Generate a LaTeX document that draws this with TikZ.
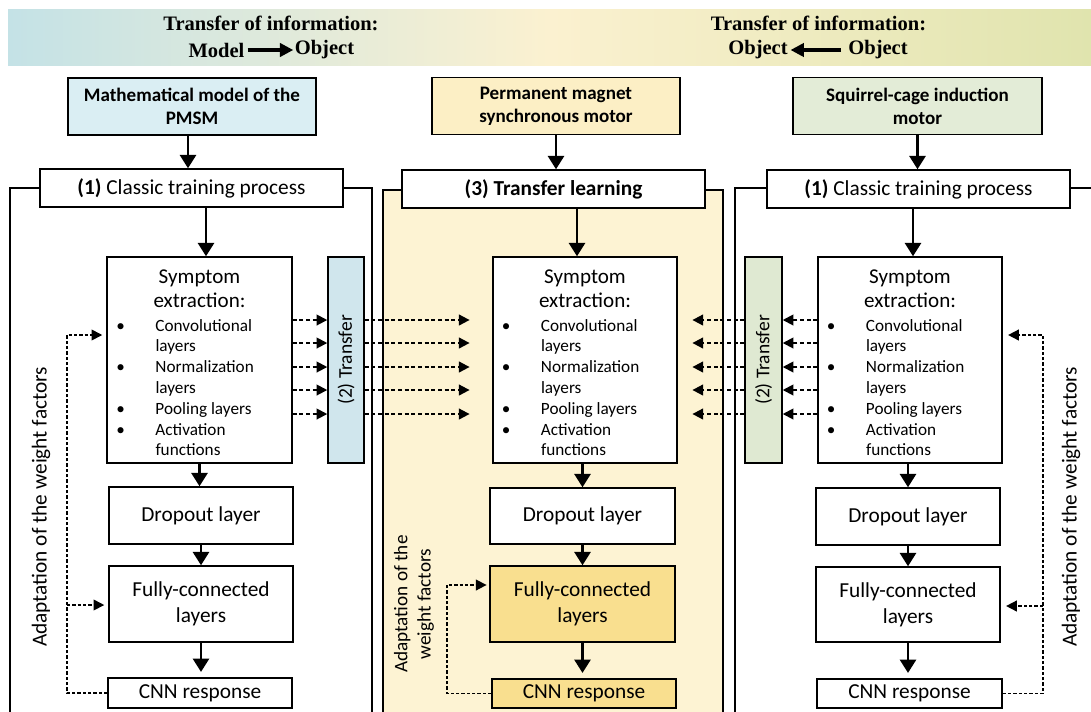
\documentclass[tikz,border=0pt]{standalone}
\usepackage{fontspec}
\setmainfont{Carlito}
\newfontfamily\timesfont{Liberation Serif}
\usetikzlibrary{arrows.meta}
\newcommand\pxu{0.75pt}
\definecolor{topblue}{HTML}{DAEEF3}
\definecolor{topyellow}{HTML}{FCEFC5}
\definecolor{topgreen}{HTML}{E3ECD7}
\definecolor{midyellow}{HTML}{FDF3D3}
\definecolor{gold}{HTML}{F9DF8F}
\definecolor{barblue}{HTML}{D0E6ED}
\definecolor{bargreen}{HTML}{DFE9D2}
\definecolor{bnA}{HTML}{B0D4E1}
\definecolor{bnB}{HTML}{C4E2E6}
\definecolor{bnC}{HTML}{FBF1D0}
\definecolor{bnD}{HTML}{E0E4AE}
\definecolor{bnE}{HTML}{BAD094}
\pgfdeclarehorizontalshading{banner}{100bp}{color(0bp)=(bnA); color(25bp)=(bnB); color(50bp)=(bnC); color(75bp)=(bnD); color(100bp)=(bnE)}
\newcommand\bitem{\leavevmode\llap{\textbullet\hskip 23pt}}
\newcommand\symptext{\raisebox{-2pt}[\height][\depth]{\parbox{138pt}{\centering\fontsize{15.8}{18}\selectfont Symptom\\extraction:\par\vskip 2.4pt
\raggedright\leftskip=36pt\fontsize{12.9}{15.6}\selectfont
\bitem Convolutional\\layers\par
\bitem Normalization\\layers\par
\bitem Pooling layers\par
\bitem Activation\\functions\par}}}
\begin{document}
\begin{tikzpicture}[x=0.75pt,y=-0.75pt,
  box/.style={draw, line width=1.1pt, fill=white, inner sep=2pt, align=center, font=\fontsize{16}{19.5}\selectfont},
  topbox/.style={draw, line width=1.4pt, inner sep=2pt, align=center, font=\bfseries\fontsize{14.3}{17.3}\selectfont},
  barbox/.style={draw, line width=1.1pt, minimum width=36*\pxu, minimum height=206*\pxu, inner sep=0pt},
  bartext/.style={rotate=90, font=\fontsize{14.6}{17}\selectfont},
  adapt/.style={rotate=90, align=center},
  bannertext/.style={font=\timesfont\bfseries\fontsize{15.4}{18}\selectfont, inner sep=0pt},
  barrow/.style={line width=2.3pt, -{Triangle[length=10pt,width=10pt]}},
  arr/.style={line width=2pt, -{Triangle[length=10pt,width=12pt]}},
  darr/.style={line width=1.4pt, dash pattern=on 3pt off 2pt, -{Triangle[length=8pt,width=8pt]}},
  farr/.style={line width=1.2pt, dash pattern=on 2.5pt off 1.5pt, -{Triangle[length=8pt,width=8pt]}},
  frame/.style={draw, line width=1.1pt}]
\useasboundingbox (0,0) rectangle (1091,711);
\clip (0,0) rectangle (1091,711);
% banner
\shade[shading=banner] (8,9) rectangle (1091,65);
\node[bannertext] (bl1) at (271,23) {Transfer of information:};
\node[bannertext] (blm) at (216.5,50) {Model};
\node[bannertext] (blo) at (324.5,50) {Object};
\draw[barrow] (blm.east) ++(3,0) coordinate (blA) -- ([xshift=-1pt]blo.west |- blA);
\node[bannertext] (br1) at (818.5,23) {Transfer of information:};
\node[bannertext] (bro1) at (758,50) {Object};
\node[bannertext] (bro2) at (878,50) {Object};
\draw[barrow] (bro2.west) ++(-7,0) coordinate (brA) -- ([xshift=2pt]bro1.east |- brA);
% frames
\draw[frame] (10,188) rectangle (372,740);
\draw[frame, fill=midyellow] (383,190) rectangle (723,740);
\draw[frame] (735,188) rectangle (1110,740);
% top boxes
\node[topbox, fill=topblue, minimum width=248*\pxu, minimum height=57*\pxu] (m1) at (192,106.5) {Mathematical model of the\\PMSM};
\node[topbox, fill=topyellow, minimum width=248*\pxu, minimum height=57*\pxu] (m2) at (556,106) {Permanent magnet\\synchronous motor};
\node[topbox, fill=topgreen, minimum width=249*\pxu, minimum height=57*\pxu] (m3) at (917.5,106) {Squirrel-cage induction\\motor};
% process boxes
\node[box, minimum width=303*\pxu, minimum height=38*\pxu] (p1) at (191.5,188) {\textbf{(1)} Classic training process};
\node[box, minimum width=303*\pxu, minimum height=38*\pxu] (p2) at (553.5,189) {\textbf{(3) Transfer learning}};
\node[box, minimum width=303*\pxu, minimum height=38*\pxu] (p3) at (918.5,189) {\textbf{(1)} Classic training process};
\draw[arr] (m1.south -| 188,0) coordinate (ta1) -- (ta1 |- p1.north);
\draw[arr] (m2.south) -- (m2.south |- p2.north);
\draw[arr] (m3.south) -- (m3.south |- p3.north);
% symptom boxes
\node[box, minimum width=185*\pxu, minimum height=206*\pxu, inner sep=0pt] (s1) at (199.5,360) {\symptext};
\node[box, minimum width=184*\pxu, minimum height=206*\pxu, inner sep=0pt] (s2) at (585,360) {\symptext};
\node[box, minimum width=184*\pxu, minimum height=206*\pxu, inner sep=0pt] (s3) at (910,360) {\symptext};
\coordinate (a1) at (206,0);
\coordinate (a2) at (577,0);
\coordinate (a3) at (913,0);
\draw[arr] (p1.south -| a1) -- (a1 |- s1.north);
\draw[arr] (p2.south -| a2) -- (a2 |- s2.north);
\draw[arr] (p3.south -| a3) -- (a3 |- s3.north);
% transfer bars
\node[barbox, fill=barblue] (t1) at (346,360) {};
\node[bartext] at (t1.center) {(2) Transfer};
\node[barbox, fill=bargreen, minimum width=37*\pxu] (t3) at (763.5,360) {};
\node[bartext] at (t3.center) {(2) Transfer};
\foreach \yy in {320,343,367,390,414}{
  \draw[darr] ([yshift={(360-\yy)*0.75pt}]s1.east) -- ([yshift={(360-\yy)*0.75pt}]t1.west);
  \draw[darr, shorten >=17pt] ([yshift={(360-\yy)*0.75pt}]t1.east) -- ([yshift={(360-\yy)*0.75pt}]s2.west);
  \draw[darr] ([yshift={(360-\yy)*0.75pt}]s3.west) -- ([yshift={(360-\yy)*0.75pt}]t3.east);
  \draw[darr, shorten >=11pt] ([yshift={(360-\yy)*0.75pt}]t3.west) -- ([yshift={(360-\yy)*0.75pt}]s2.east);
}
% dropout
\node[box, minimum width=184*\pxu, minimum height=57*\pxu] (d1) at (201,515.5) {Dropout layer};
\node[box, minimum width=185*\pxu, minimum height=56*\pxu] (d2) at (582.5,516) {Dropout layer};
\node[box, minimum width=184*\pxu, minimum height=57*\pxu] (d3) at (908,516.5) {Dropout layer};
\draw[arr] (s1.south) -- (s1.south |- d1.north);
\draw[arr] (d2.north |- s2.south) -- (d2.north);
\draw[arr] (d3.north |- s3.south) -- (d3.north);
% fully connected
\node[box, minimum width=184*\pxu, minimum height=76*\pxu] (f1) at (201,604) {Fully-connected\\layers};
\node[box, fill=gold, minimum width=185*\pxu, minimum height=76*\pxu] (f2) at (582.5,604) {Fully-connected\\layers};
\node[box, minimum width=184*\pxu, minimum height=75*\pxu] (f3) at (908,604.5) {Fully-connected\\layers};
\draw[arr] (d1.south) -- (f1.north);
\draw[arr] (d2.south) -- (f2.north);
\draw[arr] (d3.south) -- (f3.north);
% CNN response
\node[box, minimum width=184*\pxu, minimum height=30*\pxu] (c1) at (200,693) {CNN response};
\node[box, fill=gold, minimum width=184*\pxu, minimum height=29*\pxu] (c2) at (584,693.5) {CNN response};
\node[box, minimum width=185*\pxu, minimum height=29*\pxu] (c3) at (909.5,693.5) {CNN response};
\draw[arr, shorten >=4pt] (f1.south) -- (f1.south |- c1.north);
\draw[arr, shorten >=4pt] (f2.south) -- (f2.south |- c2.north);
\draw[arr, shorten >=4pt] (f3.south) -- (f3.south |- c3.north);
% feedback
\coordinate (fl) at (67,335);
\coordinate (fl2) at (67,605);
\draw[farr, shorten >=3pt] (c1.west) -| (fl) -- (fl -| s1.west);
\draw[farr, shorten >=3pt] (fl2) -- (fl2 -| f1.west);
\coordinate (fm) at (447,585);
\draw[farr, shorten >=2pt] (c2.west) -| (fm) -- (fm -| f2.west);
\coordinate (fr) at (1043,335);
\coordinate (fr2) at (1043,606);
\draw[farr, shorten >=4pt] (c3.east) -| (fr) -- (fr -| s3.east);
\draw[farr, shorten >=4pt] (fr2) -- (fr2 -| f3.east);
% adaptation labels
\node[adapt, font=\fontsize{16}{19}\selectfont] (ad1) at (41,507) {Adaptation of the weight factors};
\node[adapt, font=\fontsize{16}{19}\selectfont] (ad3) at (1071,507) {Adaptation of the weight factors};
\node[adapt, font=\fontsize{14.4}{17.5}\selectfont] (ad2) at (414,604) {Adaptation of the\\weight factors};
\end{tikzpicture}
\end{document}
